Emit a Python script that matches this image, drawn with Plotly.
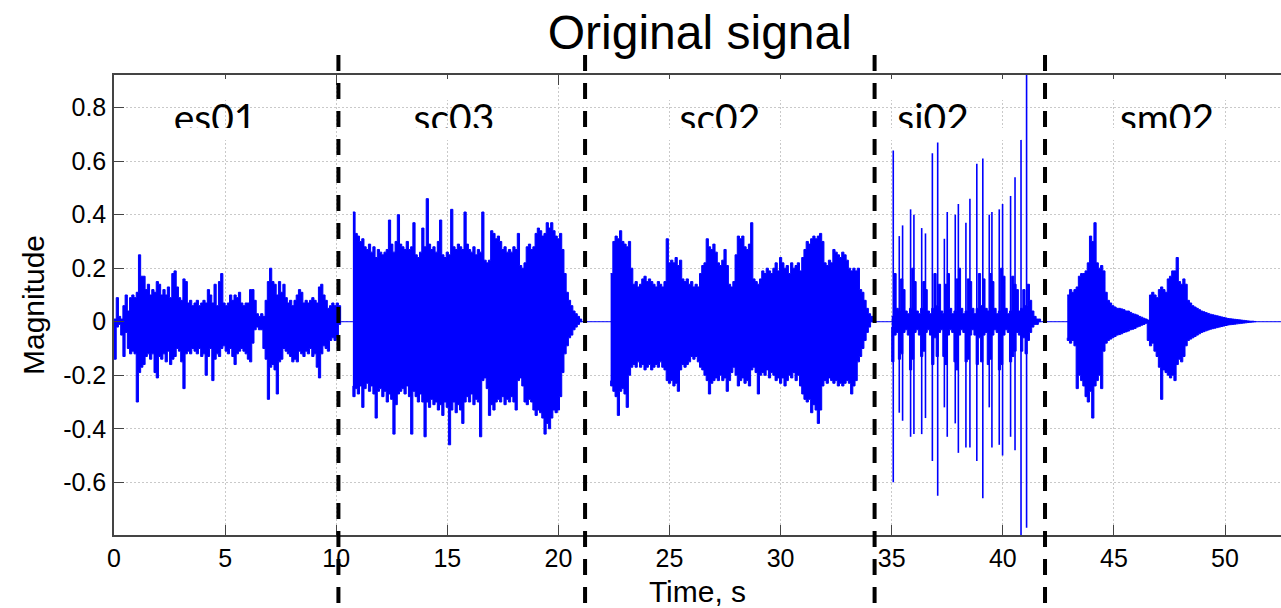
import plotly.graph_objects as go

# ---------------------------------------------------------------------------
# Concatenated test signal: five clips, each described by its peak envelope
# (upper / lower extreme of the waveform) sampled every 0.1 s.
# ---------------------------------------------------------------------------
STEP = 0.1

es01_start = 0.0
es01_hi = [
    0.01, 0.09, 0.02, 0.01, 0.06, 0.10, 0.04, 0.09, 0.10, 0.09,
    0.11, 0.25, 0.17, 0.17, 0.12, 0.14, 0.10, 0.12, 0.11, 0.15,
    0.14, 0.10, 0.12, 0.10, 0.13, 0.09, 0.18, 0.19, 0.13, 0.09,
    0.08, 0.16, 0.15, 0.07, 0.08, 0.06, 0.07, 0.08, 0.06, 0.07,
    0.08, 0.07, 0.12, 0.10, 0.07, 0.14, 0.06, 0.15, 0.18, 0.07,
    0.06, 0.07, 0.10, 0.08, 0.10, 0.09, 0.11, 0.07, 0.06, 0.07,
    0.07, 0.12, 0.12, 0.08, 0.03, 0.02, 0.03, 0.02, 0.08, 0.15,
    0.20, 0.15, 0.14, 0.10, 0.15, 0.11, 0.14, 0.09, 0.07, 0.08,
    0.06, 0.08, 0.10, 0.12, 0.11, 0.07, 0.08, 0.07, 0.08, 0.09,
    0.08, 0.07, 0.13, 0.14, 0.10, 0.08, 0.05, 0.06, 0.07, 0.06,
    0.07, 0.06, 0.01,
]
es01_lo = [
    -0.01, -0.14, -0.02, -0.01, -0.05, -0.13, -0.04, -0.10, -0.12, -0.11,
    -0.12, -0.30, -0.19, -0.17, -0.16, -0.13, -0.12, -0.14, -0.12, -0.19,
    -0.21, -0.13, -0.14, -0.12, -0.15, -0.11, -0.16, -0.14, -0.13, -0.10,
    -0.11, -0.15, -0.25, -0.12, -0.11, -0.12, -0.10, -0.11, -0.12, -0.10,
    -0.13, -0.12, -0.20, -0.13, -0.10, -0.22, -0.14, -0.12, -0.13, -0.10,
    -0.09, -0.11, -0.12, -0.10, -0.13, -0.16, -0.12, -0.11, -0.10, -0.11,
    -0.12, -0.14, -0.15, -0.08, -0.03, -0.02, -0.03, -0.03, -0.10, -0.14,
    -0.29, -0.17, -0.16, -0.18, -0.27, -0.15, -0.14, -0.10, -0.11, -0.12,
    -0.13, -0.15, -0.14, -0.15, -0.11, -0.12, -0.13, -0.11, -0.12, -0.10,
    -0.13, -0.12, -0.17, -0.21, -0.12, -0.09, -0.10, -0.11, -0.07, -0.06,
    -0.07, -0.06, -0.01,
]

sc03_start = 10.75
sc03_hi = [
    0.41, 0.33, 0.32, 0.30, 0.31, 0.28, 0.27, 0.29, 0.26, 0.28,
    0.24, 0.27, 0.26, 0.25, 0.26, 0.27, 0.38, 0.29, 0.26, 0.30,
    0.40, 0.29, 0.28, 0.27, 0.30, 0.27, 0.28, 0.37, 0.25, 0.24,
    0.26, 0.35, 0.28, 0.46, 0.29, 0.27, 0.28, 0.26, 0.30, 0.38,
    0.25, 0.24, 0.26, 0.25, 0.42, 0.28, 0.27, 0.29, 0.28, 0.27,
    0.41, 0.29, 0.27, 0.26, 0.28, 0.25, 0.27, 0.26, 0.41, 0.23,
    0.22, 0.23, 0.34, 0.33, 0.31, 0.32, 0.30, 0.27, 0.28, 0.26,
    0.27, 0.26, 0.28, 0.27, 0.33, 0.21, 0.20, 0.22, 0.28, 0.29,
    0.27, 0.28, 0.33, 0.35, 0.34, 0.32, 0.33, 0.37, 0.35, 0.37,
    0.34, 0.32, 0.31, 0.33, 0.27, 0.18, 0.11, 0.08, 0.06, 0.04,
    0.03, 0.02, 0.01, 0.00,
]
sc03_lo = [
    -0.24, -0.28, -0.25, -0.27, -0.24, -0.32, -0.25, -0.23, -0.26, -0.24,
    -0.27, -0.36, -0.26, -0.25, -0.28, -0.26, -0.30, -0.27, -0.29, -0.42,
    -0.31, -0.27, -0.26, -0.25, -0.27, -0.24, -0.28, -0.42, -0.26, -0.28,
    -0.30, -0.27, -0.30, -0.43, -0.30, -0.32, -0.29, -0.31, -0.30, -0.33,
    -0.31, -0.35, -0.30, -0.32, -0.46, -0.33, -0.30, -0.34, -0.31, -0.33,
    -0.38, -0.30, -0.28, -0.30, -0.27, -0.31, -0.29, -0.30, -0.43, -0.22,
    -0.21, -0.25, -0.35, -0.31, -0.33, -0.30, -0.29, -0.30, -0.28, -0.31,
    -0.29, -0.30, -0.28, -0.30, -0.33, -0.22, -0.21, -0.24, -0.30, -0.31,
    -0.29, -0.30, -0.33, -0.35, -0.33, -0.34, -0.36, -0.42, -0.38, -0.40,
    -0.36, -0.33, -0.34, -0.33, -0.28, -0.19, -0.12, -0.09, -0.06, -0.05,
    -0.03, -0.02, -0.01, 0.00,
]

sc02_start = 22.35
sc02_hi = [
    0.18, 0.30, 0.32, 0.31, 0.34, 0.30, 0.29, 0.28, 0.30, 0.20,
    0.14, 0.15, 0.13, 0.14, 0.16, 0.17, 0.15, 0.16, 0.15, 0.14,
    0.13, 0.15, 0.14, 0.13, 0.15, 0.31, 0.22, 0.23, 0.22, 0.24,
    0.21, 0.23, 0.16, 0.15, 0.16, 0.14, 0.15, 0.13, 0.14, 0.13,
    0.18, 0.21, 0.22, 0.31, 0.28, 0.27, 0.29, 0.26, 0.22, 0.21,
    0.23, 0.27, 0.21, 0.14, 0.13, 0.15, 0.25, 0.32, 0.31, 0.32,
    0.28, 0.27, 0.29, 0.37, 0.16, 0.15, 0.14, 0.16, 0.19, 0.18,
    0.20, 0.19, 0.18, 0.20, 0.22, 0.19, 0.24, 0.22, 0.20, 0.21,
    0.18, 0.22, 0.20, 0.21, 0.22, 0.19, 0.24, 0.27, 0.30, 0.29,
    0.31, 0.32, 0.31, 0.32, 0.33, 0.30, 0.22, 0.21, 0.23, 0.22,
    0.27, 0.26, 0.25, 0.24, 0.26, 0.25, 0.23, 0.20, 0.19, 0.20,
    0.19, 0.20, 0.12, 0.11, 0.08, 0.05, 0.03, 0.02, 0.00,
]
sc02_lo = [
    -0.22, -0.24, -0.26, -0.28, -0.35, -0.26, -0.25, -0.27, -0.32, -0.20,
    -0.17, -0.16, -0.17, -0.15, -0.17, -0.16, -0.18, -0.17, -0.16, -0.18,
    -0.17, -0.16, -0.17, -0.15, -0.17, -0.18, -0.22, -0.23, -0.22, -0.24,
    -0.23, -0.26, -0.18, -0.16, -0.17, -0.16, -0.15, -0.13, -0.14, -0.13,
    -0.15, -0.17, -0.18, -0.20, -0.22, -0.27, -0.23, -0.22, -0.21, -0.22,
    -0.20, -0.22, -0.21, -0.26, -0.22, -0.19, -0.17, -0.20, -0.24, -0.22,
    -0.21, -0.23, -0.22, -0.24, -0.18, -0.17, -0.19, -0.27, -0.20, -0.19,
    -0.20, -0.18, -0.21, -0.19, -0.20, -0.22, -0.21, -0.23, -0.21, -0.24,
    -0.22, -0.20, -0.21, -0.19, -0.22, -0.20, -0.24, -0.27, -0.29, -0.30,
    -0.29, -0.34, -0.31, -0.33, -0.38, -0.33, -0.24, -0.22, -0.23, -0.21,
    -0.22, -0.23, -0.22, -0.24, -0.23, -0.24, -0.23, -0.22, -0.23, -0.27,
    -0.24, -0.22, -0.15, -0.13, -0.10, -0.07, -0.04, -0.02, 0.00,
]

# si02: low-level body of the clip between strikes
si02_start = 35.0
si02_hi = [
    0.02, 0.18, 0.05, 0.04, 0.16, 0.12, 0.04, 0.03, 0.05, 0.20,
    0.15, 0.04, 0.03, 0.05, 0.15, 0.12, 0.04, 0.03, 0.05, 0.18,
    0.06, 0.14, 0.04, 0.03, 0.14, 0.18, 0.05, 0.03, 0.04, 0.16,
    0.20, 0.05, 0.03, 0.04, 0.16, 0.15, 0.05, 0.03, 0.05, 0.18,
    0.06, 0.16, 0.05, 0.04, 0.18, 0.15, 0.05, 0.03, 0.04, 0.20,
    0.17, 0.05, 0.03, 0.04, 0.17, 0.14, 0.12, 0.04, 0.05, 0.12,
    0.06, 0.14, 0.08, 0.04, 0.02, 0.01, 0.01, 0.00,
]
si02_lo = [
    -0.02, -0.15, -0.05, -0.04, -0.14, -0.12, -0.04, -0.03, -0.05, -0.18,
    -0.14, -0.04, -0.03, -0.05, -0.13, -0.11, -0.04, -0.03, -0.05, -0.16,
    -0.06, -0.13, -0.04, -0.03, -0.13, -0.16, -0.05, -0.03, -0.04, -0.15,
    -0.18, -0.05, -0.03, -0.04, -0.15, -0.14, -0.05, -0.03, -0.05, -0.16,
    -0.06, -0.15, -0.05, -0.04, -0.16, -0.14, -0.05, -0.03, -0.04, -0.18,
    -0.16, -0.05, -0.03, -0.04, -0.15, -0.13, -0.11, -0.04, -0.05, -0.11,
    -0.06, -0.12, -0.07, -0.04, -0.02, -0.01, -0.01, 0.00,
]
# si02: individual strikes (time, positive peak, negative peak)
strike_t = [35.07, 35.34, 35.49, 35.85, 36.00, 36.35, 36.52, 36.83, 37.07,
            37.37, 37.50, 37.86, 38.00, 38.34, 38.52, 38.83, 39.10, 39.39,
            39.51, 39.84, 39.99, 40.35, 40.55, 40.82, 41.07]
strike_hi = [0.64, 0.32, 0.36, 0.42, 0.40, 0.35, 0.33, 0.63, 0.67,
             0.31, 0.41, 0.40, 0.44, 0.37, 0.46, 0.59, 0.61, 0.40,
             0.41, 0.42, 0.44, 0.47, 0.54, 0.68, 0.93]
strike_lo = [-0.60, -0.34, -0.37, -0.43, -0.42, -0.42, -0.36, -0.52, -0.65,
             -0.32, -0.43, -0.38, -0.49, -0.47, -0.47, -0.52, -0.66, -0.32,
             -0.47, -0.46, -0.50, -0.43, -0.48, -0.80, -0.77]

sm02_start = 42.9
sm02_hi = [
    0.10, 0.12, 0.11, 0.12, 0.13, 0.17, 0.18, 0.18, 0.19, 0.22,
    0.32, 0.30, 0.37, 0.22, 0.20, 0.21, 0.19, 0.11, 0.08, 0.07,
    0.06, 0.055, 0.05, 0.05, 0.048, 0.045, 0.04, 0.04, 0.035, 0.03,
    0.028, 0.025, 0.02, 0.017, 0.013, 0.01, 0.006, 0.10, 0.11, 0.10,
    0.09, 0.12, 0.13, 0.12, 0.11, 0.16, 0.17, 0.19, 0.19, 0.24,
    0.15, 0.14, 0.16, 0.14, 0.08, 0.07, 0.06, 0.055, 0.05, 0.045,
    0.04, 0.037, 0.034, 0.031, 0.028, 0.026, 0.024, 0.022, 0.02, 0.018,
    0.016, 0.014, 0.012, 0.011, 0.01, 0.009, 0.008, 0.007, 0.006, 0.005,
    0.004, 0.003, 0.002, 0.002, 0.001, 0.0,
]
sm02_lo = [
    -0.06, -0.07, -0.08, -0.07, -0.09, -0.25, -0.20, -0.22, -0.24, -0.28,
    -0.30, -0.26, -0.36, -0.24, -0.22, -0.20, -0.25, -0.11, -0.08, -0.07,
    -0.065, -0.06, -0.055, -0.05, -0.048, -0.045, -0.04, -0.038, -0.035, -0.03,
    -0.028, -0.025, -0.02, -0.017, -0.013, -0.01, -0.006, -0.07, -0.09, -0.08,
    -0.11, -0.13, -0.17, -0.29, -0.18, -0.19, -0.20, -0.21, -0.20, -0.22,
    -0.16, -0.14, -0.15, -0.13, -0.09, -0.07, -0.065, -0.06, -0.055, -0.05,
    -0.045, -0.04, -0.037, -0.034, -0.031, -0.028, -0.026, -0.024, -0.022, -0.02,
    -0.018, -0.016, -0.014, -0.012, -0.011, -0.01, -0.009, -0.008, -0.007, -0.006,
    -0.005, -0.004, -0.003, -0.002, -0.001, 0.0,
]

clip_names = ["es01", "sc03", "sc02", "si02", "sm02"]
clip_boundaries = [10.1, 21.2, 34.23, 41.9]   # where one clip hands over to the next
signal_end = 52.52

x_ticks = [0, 5, 10, 15, 20, 25, 30, 35, 40, 45, 50]
y_ticks = [-0.6, -0.4, -0.2, 0, 0.2, 0.4, 0.6, 0.8]
y_tick_text = ["-0.6", "-0.4", "-0.2", "0", "0.2", "0.4", "0.6", "0.8"]

# ---------------------------------------------------------------------------
# Layout constants
# ---------------------------------------------------------------------------
W, H = 1281, 608
M_L, M_R, M_T, M_B = 114, 0, 75, 73
Y_RANGE = [-0.797, 0.922]
BLUE = "#0000FF"
AXIS_C = "#444444"
GRID_C = "#c9c9c9"
SANS = "Liberation Sans, Arial, sans-serif"
LABEL_FONT = "Lato, Open Sans, sans-serif"
LABEL_SIZE = 39
LABEL_ROW = 122.5        # px row of the clip-name text centre

# label text centres and their white backing boxes (x in seconds)
label_x = [4.55, 15.30, 27.27, 36.86, 47.39]
box_x = [5.11, 15.98, 27.92, 37.60, 47.68]
BOX_HALF_W = 72          # px
plot_h = H - M_T - M_B


def paper_y(px):
    """pixel row -> paper coordinate"""
    return (H - M_B - px) / plot_h


def data_y(px):
    """pixel row -> y-axis value"""
    return Y_RANGE[1] - (px - M_T) / plot_h * (Y_RANGE[1] - Y_RANGE[0])


fig = go.Figure()

# silent stretches sit on the zero line
fig.add_trace(go.Scatter(
    x=[0, signal_end], y=[0, 0], mode="lines",
    line=dict(color=BLUE, width=1), hoverinfo="skip", showlegend=False))

# each clip: filled peak envelope, stepped per sample
clips = [
    (es01_start, es01_hi, es01_lo),
    (sc03_start, sc03_hi, sc03_lo),
    (sc02_start, sc02_hi, sc02_lo),
    (si02_start, si02_hi, si02_lo),
    (sm02_start, sm02_hi, sm02_lo),
]
for t0, hi, lo in clips:
    t = [t0 + i * STEP for i in range(len(hi))]
    fig.add_trace(go.Scatter(
        x=t + t[::-1], y=hi + lo[::-1], mode="lines",
        fill="toself", fillcolor=BLUE,
        line=dict(color=BLUE, width=1, shape="hv"),
        hoverinfo="skip", showlegend=False))

# si02 strikes
sx, sy = [], []
for t, h, l in zip(strike_t, strike_hi, strike_lo):
    sx += [t, t, None]
    sy += [l, h, None]
fig.add_trace(go.Scatter(
    x=sx, y=sy, mode="lines", line=dict(color=BLUE, width=1.6),
    hoverinfo="skip", showlegend=False))

# clip names
fig.add_trace(go.Scatter(
    x=label_x, y=[data_y(LABEL_ROW)] * len(label_x),
    mode="text", text=clip_names, textposition="middle center",
    textfont=dict(family=LABEL_FONT, size=LABEL_SIZE, color="black"),
    hoverinfo="skip", showlegend=False))

shapes = []
for bx in box_x:
    common = dict(type="rect", xref="x", xsizemode="pixel", xanchor=bx,
                  x0=-BOX_HALF_W, x1=BOX_HALF_W, yref="paper",
                  fillcolor="white", line=dict(width=0))
    # behind the name: hides the grid
    shapes.append(dict(common, layer="between", y0=paper_y(128), y1=paper_y(100)))
    # above and below the name: hides grid and tick marks, trims the glyphs
    shapes.append(dict(common, layer="above", y0=paper_y(100), y1=paper_y(79)))
    shapes.append(dict(common, layer="above", y0=paper_y(140), y1=paper_y(128)))
# dashed separators between clips
for b in clip_boundaries:
    shapes.append(dict(
        type="line", layer="above", xref="x", yref="paper",
        x0=b, x1=b, y0=paper_y(55), y1=paper_y(630),
        line=dict(color="black", width=4, dash="16px,12px")))

fig.update_layout(
    width=W, height=H,
    margin=dict(l=M_L, r=M_R, t=M_T, b=M_B, autoexpand=False),
    paper_bgcolor="white", plot_bgcolor="white",
    showlegend=False,
    title=dict(text="Original signal", x=0.502, xref="paper", xanchor="center",
               y=1 - 15.4 / H, yref="container", yanchor="top",
               font=dict(family=SANS, size=48, color="black")),
    xaxis=dict(
        range=[0, signal_end], tickvals=x_ticks,
        ticks="inside", ticklen=10, tickwidth=1, tickcolor=AXIS_C,
        showline=True, linecolor=AXIS_C, linewidth=1.5, mirror="ticks",
        showgrid=True, gridcolor=GRID_C, gridwidth=1, griddash="2px,2px",
        zeroline=False, automargin=False,
        tickfont=dict(family=SANS, size=25, color="black"),
        title=dict(text="Time, s", standoff=10,
                   font=dict(family=SANS, size=30, color="black"))),
    yaxis=dict(
        range=Y_RANGE, tickvals=y_ticks, ticktext=y_tick_text,
        ticks="inside", ticklen=10, tickwidth=1, tickcolor=AXIS_C,
        showline=True, linecolor=AXIS_C, linewidth=1.5, mirror=False,
        showgrid=True, gridcolor=GRID_C, gridwidth=1, griddash="2px,2px",
        zeroline=False, automargin=False, ticklabelstandoff=1,
        tickfont=dict(family=SANS, size=25, color="black"),
        title=dict(text="Magnitude", standoff=10,
                   font=dict(family=SANS, size=30, color="black"))),
    yaxis2=dict(
        overlaying="y", side="right", anchor="x", range=Y_RANGE,
        tickvals=y_ticks, ticks="inside", ticklen=4, tickwidth=1,
        tickcolor=AXIS_C, showticklabels=False, showline=False,
        showgrid=False, zeroline=False),
    shapes=shapes,
)

fig.write_html("out.html")
